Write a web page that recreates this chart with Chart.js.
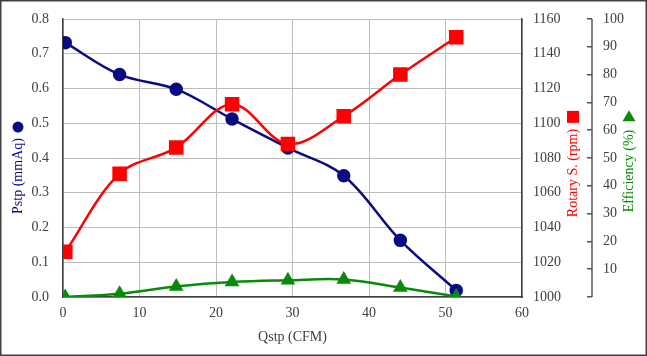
<!DOCTYPE html>
<html>
<head>
<meta charset="utf-8">
<script src="https://cdn.jsdelivr.net/npm/chart.js@4"></script>
<style>
  html, body { margin: 0; padding: 0; background: #ffffff; }
  #wrap { width: 647px; height: 356px; }
</style>
</head>
<body>
<div id="wrap"><canvas id="c" width="647" height="356"></canvas></div>
<script>
// ---- data ----
const qstp       = [0.3, 7.4, 14.8, 22.1, 29.4, 36.7, 44.1, 51.4];
const pstp       = [0.732, 0.640, 0.598, 0.512, 0.429, 0.349, 0.163, 0.019];
const rotary     = [1026, 1071, 1086, 1111, 1088, 1104, 1128, 1149.5];
const efficiency = [0, 1.2, 3.8, 5.4, 6.0, 6.3, 3.4, 0.2];

const xTicks   = [0, 10, 20, 30, 40, 50, 60];
const yTitle   = 'Pstp (mmAq)';
const y1Title  = 'Rotary S. (rpm)';
const y2Title  = 'Efficiency (%)';
const xTitle   = 'Qstp (CFM)';

const BLUE = '#0a0a85', RED = '#ff0000', GREEN = '#0a8a0a';
const TICK = '#404040', GRID = '#bdbdbd', AXIS = '#404040';
const FONT = "'Liberation Serif', 'DejaVu Serif', serif";

const pts = (ys) => qstp.map((x, i) => ({ x: x, y: ys[i] }));

// draws axis titles (reading bottom-to-top) with their marker symbols, frame and efficiency axis line
const extras = {
  id: 'extras',
  afterDraw(chart) {
    const ctx = chart.ctx;
    const ca = chart.chartArea;
    const midY = (ca.top + ca.bottom) / 2;
    const defs = [
      { scale: chart.scales.y,  x: chart.scales.y.left + 16,  shift: 18, marker: 'circle',   gap: 5 },
      { scale: chart.scales.y1, x: chart.scales.y1.right - 14, shift: 15, marker: 'square',   gap: 6 },
      { scale: chart.scales.y2, x: chart.scales.y2.right - 16, shift: 13, marker: 'triangle', gap: 8 }
    ];
    ctx.save();
    // efficiency axis line
    const y2 = chart.scales.y2;
    ctx.strokeStyle = '#555555';
    ctx.lineWidth = 1.5;
    ctx.beginPath();
    ctx.moveTo(y2.left + 5, y2.top);
    ctx.lineTo(y2.left + 5, y2.bottom);
    ctx.stroke();

    defs.forEach(d => {
      const t = d.scale.options.title;
      ctx.save();
      ctx.font = '14px ' + FONT;
      ctx.fillStyle = t.color;
      const w = ctx.measureText(t.text).width;
      const cy = midY + d.shift;
      ctx.translate(d.x, cy);
      ctx.rotate(-Math.PI / 2);
      ctx.textAlign = 'center';
      ctx.textBaseline = 'middle';
      ctx.fillText(t.text, 0, 0);
      ctx.restore();
      // marker above the text end
      const mc = cy - w / 2 - d.gap - 6;
      ctx.fillStyle = t.color;
      ctx.beginPath();
      if (d.marker === 'circle') {
        ctx.arc(d.x, mc, 5.5, 0, Math.PI * 2);
      } else if (d.marker === 'square') {
        ctx.rect(d.x - 6, mc - 6, 12, 12);
      } else {
        ctx.moveTo(d.x, mc - 5.5);
        ctx.lineTo(d.x + 6.5, mc + 5.5);
        ctx.lineTo(d.x - 6.5, mc + 5.5);
        ctx.closePath();
      }
      ctx.fill();
    });

    // outer frame
    ctx.strokeStyle = '#404040';
    ctx.lineWidth = 1.5;
    ctx.strokeRect(0.75, 0.75, chart.width - 1.5, chart.height - 1.5);
    ctx.restore();
  }
};

const tickFont = { family: FONT, size: 14 };
const fitY = (w) => (s) => { s.width = w; s.paddingTop = 0; s.paddingBottom = 0; };

new Chart(document.getElementById('c'), {
  type: 'line',
  data: {
    datasets: [
      {
        label: yTitle, data: pts(pstp), yAxisID: 'y', order: 3,
        borderColor: BLUE, backgroundColor: BLUE, borderWidth: 2.5,
        pointStyle: 'circle', pointRadius: 5.5, pointHoverRadius: 5.5,
        tension: 0.35, fill: false
      },
      {
        label: y1Title, data: pts(rotary), yAxisID: 'y1', order: 2,
        borderColor: RED, backgroundColor: RED, borderWidth: 2.5,
        pointStyle: 'rect', pointRadius: 8.5, pointHoverRadius: 8.5,
        tension: 0.35, fill: false
      },
      {
        label: y2Title, data: pts(efficiency), yAxisID: 'y2', order: 1,
        borderColor: GREEN, backgroundColor: GREEN, borderWidth: 2.5,
        pointStyle: 'triangle', pointRadius: 6, pointHoverRadius: 6,
        tension: 0.35, fill: false
      }
    ]
  },
  options: {
    responsive: false,
    animation: false,
    events: [],
    layout: { padding: { left: 2, right: 2, top: 19, bottom: 2 } },
    plugins: { legend: { display: false }, tooltip: { enabled: false } },
    scales: {
      x: {
        type: 'linear', min: 0, max: 60,
        afterBuildTicks: (s) => { s.ticks = xTicks.map(v => ({ value: v })); },
        afterFit: (s) => { s.height = 57; s.paddingLeft = 0; s.paddingRight = 0; },
        grid: { color: GRID, lineWidth: 1, drawTicks: false },
        border: { display: true, color: AXIS, width: 1.5 },
        ticks: { color: TICK, font: tickFont, padding: 8, maxRotation: 0 },
        title: { display: true, text: xTitle, color: TICK, font: tickFont, padding: { top: 0, bottom: 8.6 } }
      },
      y: {
        position: 'left', min: 0, max: 0.8,
        afterFit: fitY(61),
        grid: { color: GRID, lineWidth: 1, drawTicks: false },
        border: { display: true, color: AXIS, width: 1.5 },
        ticks: { stepSize: 0.1, color: TICK, font: tickFont, padding: 14, callback: (v) => v.toFixed(1) },
        title: { display: false, text: yTitle, color: BLUE }
      },
      y1: {
        position: 'right', min: 1000, max: 1160,
        afterFit: fitY(65),
        grid: { display: false, drawOnChartArea: false, drawTicks: false },
        border: { display: true, color: AXIS, width: 1.5 },
        ticks: { stepSize: 20, color: TICK, font: tickFont, padding: 11, callback: (v) => String(v) },
        title: { display: false, text: y1Title, color: RED }
      },
      y2: {
        position: 'right', min: 0, max: 100,
        afterFit: fitY(58),
        grid: { display: true, drawOnChartArea: false, drawTicks: true, tickLength: 5, color: '#555555', lineWidth: 1.5 },
        border: { display: false },
        ticks: { stepSize: 10, color: TICK, font: tickFont, padding: 11, callback: (v) => v === 0 ? '' : String(v) },
        title: { display: false, text: y2Title, color: GREEN }
      }
    }
  },
  plugins: [extras]
});
</script>
</body>
</html>
